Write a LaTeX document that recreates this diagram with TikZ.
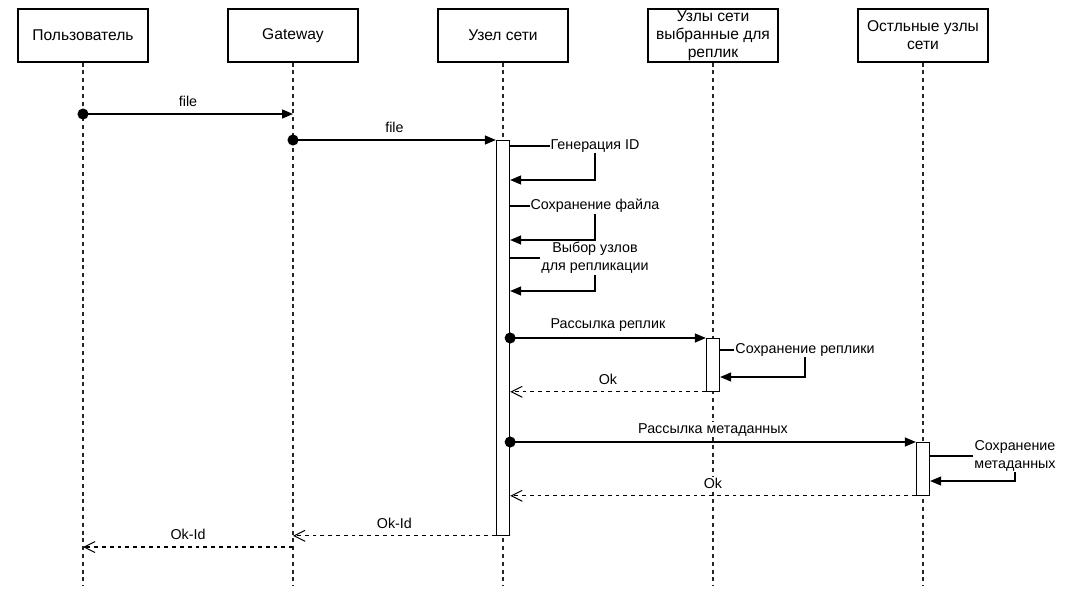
\documentclass[tikz,border=0pt]{standalone}
\usepackage{fontspec}
\setmainfont{Liberation Sans}
\usetikzlibrary{arrows.meta}
\begin{document}
\begin{tikzpicture}[x=1pt,y=-1pt,
  hdr/.style={draw=black, line width=1.3pt, fill=white, minimum width=130pt, minimum height=53pt, inner sep=0pt, align=center, font=\fontsize{15.6}{18}\selectfont},
  life/.style={draw=black!85, line width=1.3pt, dash pattern=on 3.9pt off 3.9pt},
  actbar/.style={draw=black, line width=1.3pt, fill=white, minimum width=13pt, inner sep=0pt, anchor=north},
  msg/.style={draw=black, line width=1.3pt, shorten <=-5.5pt, {Circle[length=11pt]}-{Triangle[length=11pt,width=9pt]}},
  selfm/.style={draw=black, line width=1.3pt, -{Triangle[length=11pt,width=9pt]}},
  ret/.style={draw=black, line width=1.3pt, dash pattern=on 3.9pt off 3.9pt, -{Straight Barb[length=11pt,width=11pt,line width=1pt]}},
  mlbl/.style={font=\fontsize{14.3}{17.2}\selectfont, inner sep=1pt, fill=white, midway, yshift=12.5pt},
  slbl/.style={font=\fontsize{14.3}{18}\selectfont, inner sep=1pt, fill=white, align=center},
]
\fill[white] (0,0) rectangle (1085,598);
\useasboundingbox (0,0) rectangle (1085,598);

% headers
\node[hdr] (h1) at (83,35.5) {Пользователь};
\node[hdr] (h2) at (293,35.5) {Gateway};
\node[hdr] (h3) at (503,35.5) {Узел сети};
\node[hdr] (h4) at (713,35.5) {Узлы сети\\выбранные для\\реплик};
\node[hdr] (h5) at (923,35.5) {Остльные узлы\\сети};

% lifelines
\coordinate (e1) at (83,586);
\coordinate (e2) at (293,586);
\coordinate (e3) at (503,586);
\coordinate (e4) at (713,586);
\coordinate (e5) at (923,586);
\draw[life] (h1.south) -- (e1);
\draw[life] (h2.south) -- (e2);
\draw[life] (h3.south) -- (e3);
\draw[life] (h4.south) -- (e4);
\draw[life] (h5.south) -- (e5);

% activation bars
\node[actbar, minimum height=394.5pt] (b1) at (503,140) {};
\node[actbar, minimum height=52.5pt] (b2) at (713,338) {};
\node[actbar, minimum height=52.5pt] (b3) at (923,442) {};

% messages
\coordinate (y1) at (0,114);
\draw[msg] (h1.south |- y1) -- (h2.south |- y1) node[mlbl] {file};
\draw[msg] (h2.south |- b1.north) -- (b1.north west) node[mlbl] {file};

% self message 1
\coordinate (g1a) at (595,146);
\coordinate (g1b) at (595,180);
\draw[selfm] (b1.east |- g1a) -- (g1a) -- (g1b) -- (b1.east |- g1b);
\node[slbl] (t1) at (g1a) {Генерация ID};

% self message 2
\coordinate (g2a) at (595,206);
\coordinate (g2b) at (595,240);
\draw[selfm] (b1.east |- g2a) -- (g2a) -- (g2b) -- (b1.east |- g2b);
\node[slbl] (t2) at (g2a) {Сохранение файла};

% self message 3
\coordinate (g3a) at (595,258);
\coordinate (g3b) at (595,291);
\draw[selfm] (b1.east |- g3a) -- (g3a) -- (g3b) -- (b1.east |- g3b);
\node[slbl] (t3) at (g3a) {Выбор узлов\\для репликации};

% replicas
\draw[msg] (b1.east |- b2.north) -- (b2.north west) node[mlbl] {Рассылка реплик};
\coordinate (g4a) at (805,350);
\coordinate (g4b) at (805,377);
\draw[selfm] (b2.east |- g4a) -- (g4a) -- (g4b) -- (b2.east |- g4b);
\node[slbl] (t4) at (g4a) {Сохранение реплики};
\draw[ret] (b2.south west) -- (b1.east |- b2.south) node[mlbl] {Ok};

% metadata
\draw[msg] (b1.east |- b3.north) -- (b3.north west) node[mlbl] {Рассылка метаданных};
\coordinate (g5a) at (1015,456);
\coordinate (g5b) at (1015,481);
\draw[selfm] (b3.east |- g5a) -- (g5a) -- (g5b) -- (b3.east |- g5b);
\node[slbl] (t5) at (g5a) {Сохранение\\метаданных};
\draw[ret] (b3.south west) -- (b1.east |- b3.south) node[mlbl] {Ok};

% replies
\draw[ret] (b1.south west) -- (h2.south |- b1.south) node[mlbl] {Ok-Id};
\coordinate (y2) at (0,547);
\draw[ret] (h2.south |- y2) -- (h1.south |- y2) node[mlbl] {Ok-Id};
\end{tikzpicture}
\end{document}
